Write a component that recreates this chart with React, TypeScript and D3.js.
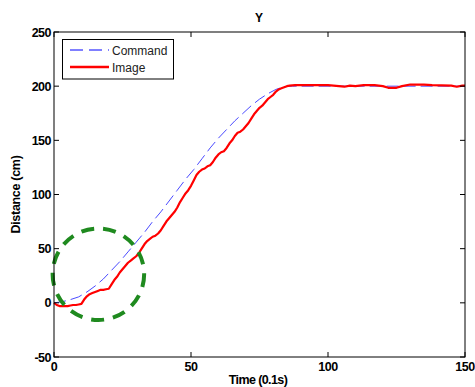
import React from "react";
import * as d3 from "d3";

const commandT = [0, 3, 6, 9, 12, 15, 18, 21, 24, 27, 30, 33, 36, 39, 42, 45, 48, 51, 54, 57, 60, 63, 66, 69, 72, 75, 78, 81, 84, 87, 150];
const commandY = [0, 1, 3, 5.5, 10, 15.5, 22, 30, 38, 47, 56, 65, 75, 84, 94, 104, 114, 123, 133, 143, 152, 160, 168, 175, 182, 188, 193, 197, 199.5, 200, 200];

const imageT = [0, 1, 2, 3, 4, 5, 6, 7, 8, 9, 10, 11, 12, 13, 14, 15, 16, 17, 18, 19, 20, 21, 22, 23, 24, 25, 26, 27, 28, 29, 30, 31, 32, 33, 34, 35, 36, 37, 38, 39, 40, 41, 42, 43, 44, 45, 46, 47, 48, 49, 50, 51, 52, 53, 54, 55, 56, 57, 58, 59, 60, 61, 62, 63, 64, 65, 66, 67, 68, 69, 70, 71, 72, 73, 74, 75, 76, 77, 78, 79, 80, 81, 82, 83, 84, 85, 86, 88, 100, 104, 106, 108, 110, 113, 117, 120, 122, 125, 127, 130, 135, 138, 145, 147, 149, 150];
const imageY = [0, -2, -3, -3, -3, -3, -2.5, -2, -2, -1.5, -1, 3, 6, 8, 9, 10, 11, 12, 12, 12.5, 13, 17, 21, 24, 28, 31, 34, 37, 39, 41, 43, 46, 50, 54, 57, 59, 61, 62, 64, 67, 71, 75, 78, 81, 84, 88, 93, 97, 101, 104, 108, 113, 118, 121, 123, 124, 126, 127, 130, 134, 137, 139, 140, 143, 147, 150, 154, 157, 158, 160, 163, 166, 170, 174, 177, 180, 182, 185, 188, 190, 192, 195, 197, 198, 199, 200, 200.5, 201, 201, 200, 199.5, 200.5, 200, 201, 201, 200, 198.5, 198.5, 200, 201.5, 201.5, 201, 200.5, 199.5, 200.5, 200.5];

const xTicks = [0, 50, 100, 150];
const yTicks = [-50, 0, 50, 100, 150, 200, 250];
const legendLabels = ["Command", "Image"];
const circleCenter = [16.2, 26.4];
const circleRadiusT = 16.7;

const W = 475, H = 387;
const M = { left: 54, top: 32, right: 465, bottom: 357 };

export default function App() {
  const x = d3.scaleLinear().domain([0, 150]).range([M.left, M.right]);
  const y = d3.scaleLinear().domain([-50, 250]).range([M.bottom, M.top]);
  const line = d3.line<[number, number]>().x(d => x(d[0])).y(d => y(d[1]));
  const cmd = line(commandT.map((t, i) => [t, commandY[i]]) as [number, number][]);
  const img = line(imageT.map((t, i) => [t, imageY[i]]) as [number, number][]);
  const cx = x(circleCenter[0]), cy = y(circleCenter[1]);
  const r = x(circleCenter[0] + circleRadiusT) - cx;
  const font = "Arial, 'Liberation Sans', sans-serif";
  const tl = 5;
  return (
    <svg width={W} height={H} style={{ position: "absolute", left: 0, top: 0, background: "#fff" }}>
      <rect x={0} y={0} width={W} height={H} fill="#fff" />
      <text x={259} y={22} textAnchor="middle" fontFamily={font} fontWeight="bold" fontSize={12}>Y</text>
      <path d={cmd || ""} fill="none" stroke="#4a4aff" strokeWidth={1} strokeDasharray="12,5" />
      <path d={img || ""} fill="none" stroke="#ff0000" strokeWidth={2.2} strokeLinejoin="round" />
      <circle cx={cx} cy={cy} r={r} fill="none" stroke="#1f8a1f" strokeWidth={4} strokeDasharray="13,9" />
      <rect x={M.left} y={M.top} width={M.right - M.left} height={M.bottom - M.top} fill="none" stroke="#000" strokeWidth={1} />
      {xTicks.map(t => (
        <g key={"x" + t}>
          <line x1={x(t)} x2={x(t)} y1={M.bottom} y2={M.bottom - tl} stroke="#000" />
          <line x1={x(t)} x2={x(t)} y1={M.top} y2={M.top + tl} stroke="#000" />
          <text x={x(t)} y={371} textAnchor="middle" fontFamily={font} fontWeight="bold" fontSize={12.5} letterSpacing={-0.5}>{t}</text>
        </g>
      ))}
      {yTicks.map(t => (
        <g key={"y" + t}>
          <line x1={M.left} x2={M.left + tl} y1={y(t)} y2={y(t)} stroke="#000" />
          <line x1={M.right} x2={M.right - tl} y1={y(t)} y2={y(t)} stroke="#000" />
          <text x={51} y={y(t) + 4.5} textAnchor="end" fontFamily={font} fontWeight="bold" fontSize={12.5} letterSpacing={-0.5}>{t}</text>
        </g>
      ))}
      <text x={258} y={384} textAnchor="middle" fontFamily={font} fontWeight="bold" fontSize={12.5} letterSpacing={-0.6}>Time (0.1s)</text>
      <text transform={`translate(20,${(M.top + M.bottom) / 2}) rotate(-90)`} textAnchor="middle" fontFamily={font} fontWeight="bold" fontSize={12.5} letterSpacing={-0.3}>Distance (cm)</text>
      <g>
        <rect x={62.5} y={39.5} width={111} height={39.5} fill="#fff" stroke="#000" strokeWidth={1} />
        <line x1={70} x2={109} y1={50} y2={50} stroke="#0000ff" strokeWidth={1} strokeDasharray="13,6" />
        <line x1={70} x2={109} y1={67} y2={67} stroke="#ff0000" strokeWidth={2.3} />
        <text x={112} y={54.5} fontFamily={font} fontSize={12} fill="#222">{legendLabels[0]}</text>
        <text x={112} y={71.5} fontFamily={font} fontSize={12} fill="#222">{legendLabels[1]}</text>
      </g>
    </svg>
  );
}
